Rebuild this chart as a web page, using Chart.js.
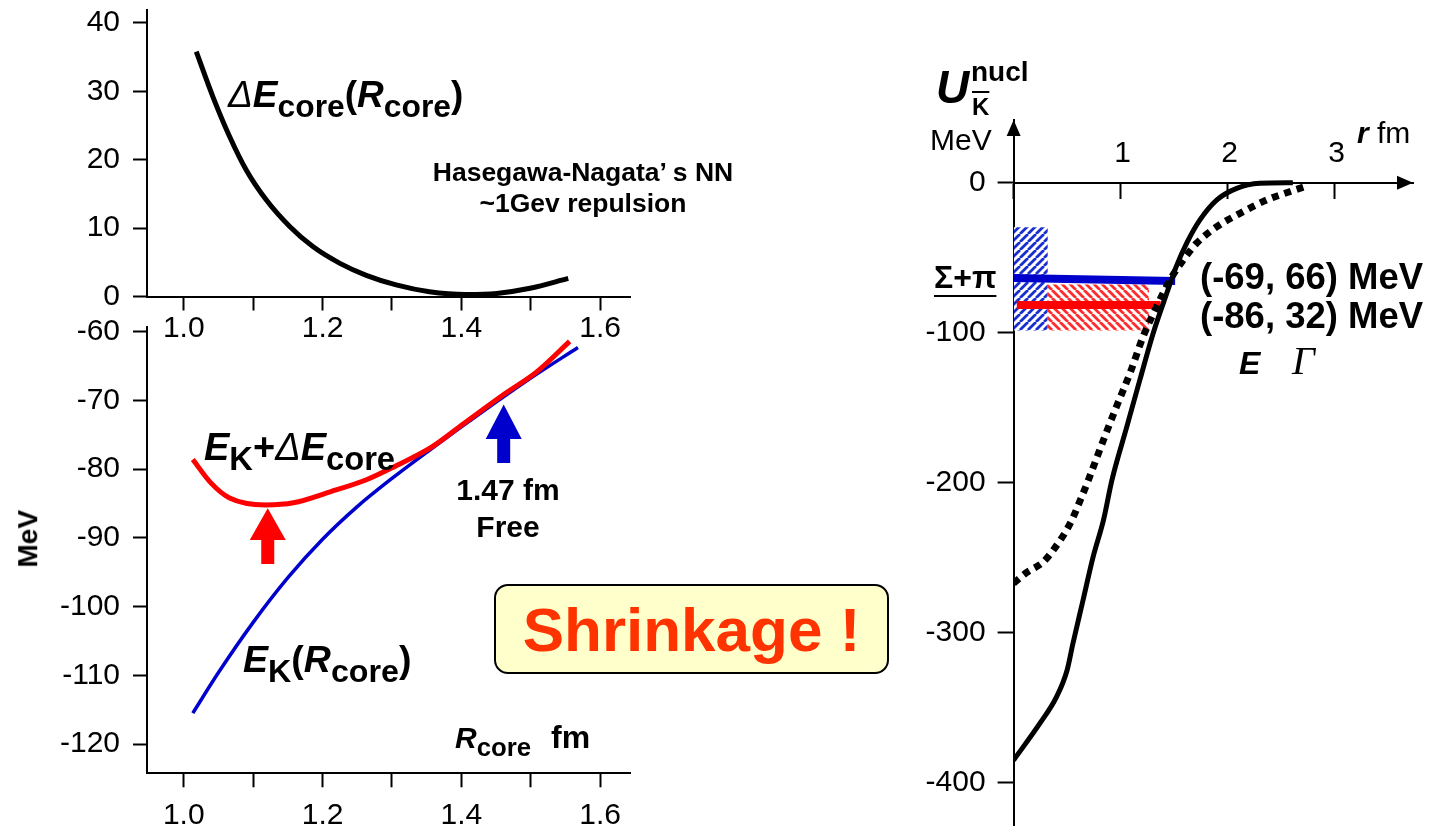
<!DOCTYPE html>
<html>
<head>
<meta charset="utf-8">
<script src="https://cdn.jsdelivr.net/npm/chart.js@4.4.1/dist/chart.umd.min.js"></script>
<style>
body { margin: 0; background: #fff; width: 1435px; height: 840px; position: relative; overflow: hidden;
       font-family: "Liberation Sans", Arial, sans-serif; }
canvas { position: absolute; }
.t { position: absolute; white-space: nowrap; line-height: 1; font-weight: bold; color: #000; }
.i { font-style: italic; }
.s { font-style: normal; font-size: 0.86em; vertical-align: -0.3em; }
.d { font-weight: normal; font-style: italic; }
.n { font-weight: normal; }
#shrink { position: absolute; left: 494px; top: 584px; width: 391px; height: 86px; border: 2.5px solid #000;
          border-radius: 14px; background: #ffffcc; display: flex; align-items: center; justify-content: center;
          font-weight: bold; font-size: 62px; color: #ff3300; }
</style>
</head>
<body>
<canvas id="cTop" style="left:0;top:0" width="660" height="345"></canvas>
<canvas id="cBottom" style="left:0;top:310px" width="660" height="530"></canvas>
<canvas id="cRight" style="left:900px;top:50px" width="535" height="790"></canvas>
<div id="shrink">Shrinkage !</div>
<script>
// ΔE_core(R_core), top left panel
const coreR = [1.018, 1.042, 1.066, 1.090, 1.119, 1.153, 1.186, 1.225, 1.263, 1.306, 1.354, 1.407, 1.451, 1.499, 1.554];
const coreDeltaE = [35.8, 29.2, 23.4, 18.5, 14.1, 10.2, 7.3, 4.85, 3.1, 1.7, 0.7, 0.3, 0.45, 1.2, 2.65];

// E_K + ΔE_core (red) and E_K (blue), bottom left panel
const sumR = [1.013, 1.039, 1.066, 1.118, 1.158, 1.211, 1.264, 1.304, 1.357, 1.403, 1.463, 1.509, 1.556];
const sumE = [-78.6, -82.0, -84.2, -85.2, -84.9, -83.3, -81.5, -79.6, -76.8, -73.4, -69.0, -65.8, -61.4];
const ekR = [1.013, 1.05, 1.10, 1.15, 1.20, 1.25, 1.30, 1.35, 1.40, 1.45, 1.50, 1.568];
const ekE = [-115.5, -109.6, -102.3, -95.8, -90.2, -85.45, -81.35, -77.55, -73.85, -70.25, -66.75, -62.3];

// arrows in the bottom left panel: position, tip, head base, tail
const arrowR = [1.121, 1.461];
const arrowTip = [-85.7, -70.6];
const arrowBase = [-90.3, -75.6];
const arrowTail = [-93.8, -79.1];
const arrowColors = ['#ff0000', '#0000cc'];

// U_Kbar^nucl(r), right panel
const solidR = [0, 0.25, 0.40, 0.50, 0.555, 0.65, 0.745, 0.84, 0.92, 1.057, 1.18, 1.306, 1.43, 1.52, 1.62, 1.74, 1.90, 2.085, 2.30, 2.61];
const solidU = [-385, -360, -343, -325, -307, -278, -249, -225, -198, -163, -131.5, -100, -74, -56, -40, -25, -11.5, -3.8, -0.4, 0];
const dottedR = [0, 0.12, 0.275, 0.37, 0.53, 0.65, 0.70, 0.84, 0.963, 1.088, 1.21, 1.337, 1.46, 1.586, 1.71, 1.90, 2.116, 2.366, 2.58, 2.72];
const dottedU = [-267, -260, -253, -245, -227, -207, -198, -171.5, -149, -127, -102.7, -82.7, -65, -51.5, -40.4, -29.3, -20.4, -11.5, -6, -2.7];

// bound states (E) and widths (hatched boxes)
const blueLevelR = [0, 1.51];
const blueLevelU = [-63.5, -65.5];
const redLevelR = [0.03, 1.374];
const redLevelU = [-81.5, -81.5];
const blueBoxR = [0, 0.32];
const blueBoxU = [-29.7, -98.6];   // top, bottom
const redBoxR = [0.32, 1.267];
const redBoxU = [-67.8, -98.6];

const rTickLabels = [1, 2, 3];

const FONT = '"Liberation Sans", Arial, sans-serif';

function pts(xs, ys) {
    return xs.map((x, i) => ({ x: x, y: ys[i] }));
}

// keep the chart areas where the picture has them
function fixBox(w, h) {
    return function(scale) {
        if (w !== null) scale.width = w;
        if (h !== null) scale.height = h;
        scale.paddingLeft = 0;
        scale.paddingRight = 0;
        scale.paddingTop = 0;
        scale.paddingBottom = 0;
    };
}

function axisGrid(len) {
    return { display: true, drawOnChartArea: false, drawTicks: true, tickLength: len, tickWidth: 2, tickColor: '#000' };
}

const border = { display: true, color: '#000', width: 2 };

const rTicks = {
    type: 'linear', min: 0.947, max: 1.643,
    border: border,
    grid: axisGrid(14),
    ticks: {
        stepSize: 0.1, includeBounds: false, maxRotation: 0, autoSkip: false,
        color: '#000', font: { family: FONT, size: 30 },
        callback: v => (Math.round(v * 10) % 2 === 0) ? v.toFixed(1) : ''
    }
};

const baseOpts = {
    responsive: false,
    animation: false,
    events: [],
    plugins: { legend: { display: false }, tooltip: { enabled: false } },
    elements: { point: { radius: 0 } }
};

function line(data, color, width, extra) {
    return Object.assign({
        data: data, borderColor: color, borderWidth: width, fill: false,
        pointRadius: 0, cubicInterpolationMode: 'monotone'
    }, extra || {});
}

// top left
new Chart(document.getElementById('cTop'), {
    type: 'line',
    data: { datasets: [line(pts(coreR, coreDeltaE), '#000', 5)] },
    options: Object.assign({}, baseOpts, {
        layout: { padding: { left: 0, right: 30, top: 10, bottom: 0 } },
        scales: {
            x: Object.assign({}, rTicks, { afterFit: fixBox(null, 48.5), ticks: Object.assign({}, rTicks.ticks, { padding: 0 }) }),
            y: {
                type: 'linear', min: 0, max: 41.9,
                border: border, grid: axisGrid(14),
                afterFit: fixBox(147, null),
                ticks: { stepSize: 10, includeBounds: false, color: '#000', padding: 13, font: { family: FONT, size: 30 } }
            }
        }
    })
});

const pointerArrows = {
    id: 'pointerArrows',
    afterDatasetsDraw(chart) {
        const { ctx, scales: { x, y } } = chart;
        ctx.save();
        arrowR.forEach((r, i) => {
            const px = x.getPixelForValue(r);
            const tip = y.getPixelForValue(arrowTip[i]);
            const base = y.getPixelForValue(arrowBase[i]);
            const tail = y.getPixelForValue(arrowTail[i]);
            ctx.fillStyle = arrowColors[i];
            ctx.beginPath();
            ctx.moveTo(px, tip);
            ctx.lineTo(px + 18, base);
            ctx.lineTo(px + 6.5, base);
            ctx.lineTo(px + 6.5, tail);
            ctx.lineTo(px - 6.5, tail);
            ctx.lineTo(px - 6.5, base);
            ctx.lineTo(px - 18, base);
            ctx.closePath();
            ctx.fill();
        });
        ctx.restore();
    }
};

// bottom left
new Chart(document.getElementById('cBottom'), {
    type: 'line',
    data: {
        datasets: [
            line(pts(sumR, sumE), '#ff0000', 5),
            line(pts(ekR, ekE), '#0000cc', 3.5)
        ]
    },
    options: Object.assign({}, baseOpts, {
        layout: { padding: { left: 0, right: 30, top: 16.7, bottom: 0 } },
        scales: {
            x: Object.assign({}, rTicks, { afterFit: fixBox(null, 66.7), ticks: Object.assign({}, rTicks.ticks, { padding: 10 }) }),
            y: {
                type: 'linear', min: -124.26, max: -59.27,
                border: border, grid: axisGrid(14),
                afterFit: fixBox(147, null),
                ticks: { stepSize: 10, includeBounds: false, color: '#000', padding: 13, font: { family: FONT, size: 30 } }
            }
        }
    }),
    plugins: [pointerArrows]
});

// hatch patterns for the widths
function hatch(color, forward) {
    const c = document.createElement('canvas');
    c.width = 8; c.height = 8;
    const g = c.getContext('2d');
    g.fillStyle = '#fff';
    g.fillRect(0, 0, 8, 8);
    g.strokeStyle = color;
    g.lineWidth = 2.8;
    g.beginPath();
    for (let k = -8; k <= 16; k += 8) {
        if (forward) { g.moveTo(k, 8); g.lineTo(k + 8, 0); }
        else { g.moveTo(k, 0); g.lineTo(k + 8, 8); }
    }
    g.stroke();
    return g.createPattern(c, 'repeat');
}

const axisArrows = {
    id: 'axisArrows',
    afterDraw(chart) {
        const { ctx, chartArea, scales: { x, y } } = chart;
        const ox = x.getPixelForValue(0);
        const oy = y.getPixelForValue(0);
        ctx.save();
        ctx.fillStyle = '#000';
        ctx.beginPath();
        ctx.moveTo(chartArea.right, oy);
        ctx.lineTo(chartArea.right - 16, oy - 7);
        ctx.lineTo(chartArea.right - 16, oy + 7);
        ctx.closePath();
        ctx.fill();
        ctx.beginPath();
        ctx.moveTo(ox, chartArea.top);
        ctx.lineTo(ox - 7, chartArea.top + 16);
        ctx.lineTo(ox + 7, chartArea.top + 16);
        ctx.closePath();
        ctx.fill();
        ctx.font = '30px ' + FONT;
        ctx.textAlign = 'center';
        ctx.textBaseline = 'alphabetic';
        rTickLabels.forEach(v => ctx.fillText(String(v), x.getPixelForValue(v) + 2, oy - 21));
        ctx.restore();
    }
};

// right
new Chart(document.getElementById('cRight'), {
    type: 'line',
    data: {
        datasets: [
            line(pts(blueBoxR, [blueBoxU[0], blueBoxU[0]]), 'rgba(0,0,0,0)', 0, { fill: '+1', backgroundColor: hatch('#1a2fd0', true), order: 10 }),
            line(pts(blueBoxR, [blueBoxU[1], blueBoxU[1]]), 'rgba(0,0,0,0)', 0, { order: 10 }),
            line(pts(redBoxR, [redBoxU[0], redBoxU[0]]), 'rgba(0,0,0,0)', 0, { fill: '+1', backgroundColor: hatch('#ff2a2a', false), order: 10 }),
            line(pts(redBoxR, [redBoxU[1], redBoxU[1]]), 'rgba(0,0,0,0)', 0, { order: 10 }),
            line(pts(blueLevelR, blueLevelU), '#0000cc', 8, { order: 5, borderCapStyle: 'butt' }),
            line(pts(redLevelR, redLevelU), '#ff0000', 8, { order: 5, borderCapStyle: 'butt' }),
            line(pts(dottedR, dottedU), '#000', 7, { order: 2, borderDash: [7, 6], borderCapStyle: 'butt' }),
            line(pts(solidR, solidU), '#000', 5, { order: 1 })
        ]
    },
    options: Object.assign({}, baseOpts, {
        layout: { padding: { left: 0, right: 22, top: 70, bottom: 15 } },
        scales: {
            x: {
                type: 'linear', min: 0, max: 3.733, position: { y: 0 },
                border: border, grid: axisGrid(15),
                afterFit: fixBox(null, 0),
                ticks: { stepSize: 1, includeBounds: false, display: false }
            },
            y: {
                type: 'linear', min: -428.2, max: 41.8, position: 'left',
                border: border, grid: axisGrid(16),
                afterFit: fixBox(113.6, null),
                ticks: { stepSize: 100, includeBounds: false, color: '#000', padding: 12, font: { family: FONT, size: 30 } }
            }
        }
    }),
    plugins: [axisArrows]
});

// text labels
function label(html, x, base, size, opts) {
    opts = opts || {};
    const d = document.createElement('div');
    d.className = 't' + (opts.cls ? ' ' + opts.cls : '');
    d.innerHTML = html;
    d.style.fontSize = size + 'px';
    d.style.top = (base - 0.847 * size) + 'px';
    d.style.left = x + 'px';
    if (opts.center) d.style.transform = 'translateX(-50%)';
    if (opts.style) Object.assign(d.style, opts.style);
    document.body.appendChild(d);
    return d;
}

label('<span class="d">Δ</span><span class="i">E</span><span class="s">core</span>(<span class="i">R</span><span class="s">core</span>)', 228, 107, 37);
label('Hasegawa-Nagata’ s NN', 583, 181, 26.5, { center: true });
label('~1Gev repulsion', 583, 212, 26.5, { center: true });
label('<span class="i">E</span><span class="s">K</span>+<span class="d">Δ</span><span class="i">E</span><span class="s">core</span>', 204, 460, 38);
label('1.47 fm', 508, 500, 30, { center: true });
label('Free', 508, 537, 30, { center: true });
label('<span class="i">E</span><span class="s">K</span>(<span class="i">R</span><span class="s">core</span>)', 243, 673, 37.5);
label('<span class="i">R</span><span class="s">core</span>', 455, 748, 30);
label('fm', 551, 748, 32);
label('MeV', 24, 553, 28, { center: true, style: { transform: 'translateX(-50%) rotate(-90deg)', transformOrigin: '50% 35%' } });

label('<span class="i">U</span>', 936, 103, 46);
label('nucl', 971, 82, 28);
label('<span style="text-decoration:overline">K</span>', 972, 115, 24);
label('MeV', 930, 150, 30, { cls: 'n' });
label('<span class="i">r</span><span class="n"> fm</span>', 1357, 143, 30);
label('Σ+π', 934, 288, 32, { style: { textDecoration: 'underline', textUnderlineOffset: '7px', textDecorationThickness: '2px' } });
label('(-69, 66) MeV', 1200, 290, 36.5);
label('(-86, 32) MeV', 1200, 329, 36.5);
label('<span class="i">E</span>', 1239, 374, 32);
label('<span style="font-family:\'Liberation Serif\',serif;font-weight:normal;font-style:italic">Γ</span>', 1292, 374, 40);
</script>
</body>
</html>
